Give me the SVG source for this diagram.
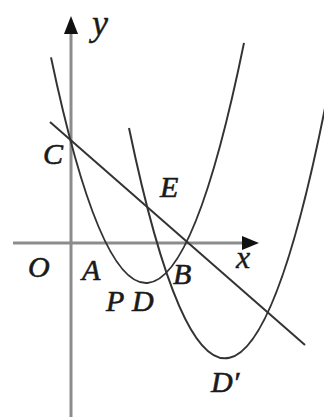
<svg xmlns="http://www.w3.org/2000/svg" width="324" height="419" viewBox="0 0 324 419">
<style>
.ax{stroke:#8c8c8c;stroke-width:3;fill:none}
.cv{stroke:#333;stroke-width:2;fill:none}
.lb{font-family:"Liberation Serif",serif;font-style:italic;font-size:30px;fill:#1a1a1a;stroke:#1a1a1a;stroke-width:0.6}
.lc{font-family:"Liberation Serif",serif;font-style:italic;font-size:36px;fill:#1a1a1a;stroke:#1a1a1a;stroke-width:0.4}
</style>
<rect width="324" height="419" fill="#fff"/>
<g id="axes">
<line class="ax" x1="71" y1="417" x2="71" y2="30"/>
<polygon points="71,16 64,34 78,34" fill="#111"/>
<line class="ax" x1="13" y1="243" x2="245" y2="243"/>
<polygon points="259,243 242,236 242,250" fill="#111"/>
</g>
<g id="connectors">
<path id="parabola1" class="cv" d="M51,57.4 Q147.5,515.8 244,42.9"/>
<path id="parabola2" class="cv" d="M129,128 Q229.5,610.4 330,82.4"/>
<line id="lineCB" class="cv" x1="50" y1="122" x2="305" y2="345"/>
</g>
<g id="labels">
<text class="lc" x="92" y="35">y</text>
<text class="lc" x="236" y="268" style="font-size:32px">x</text>
<text class="lb" x="43" y="164">C</text>
<text class="lb" x="28" y="277">O</text>
<text class="lb" x="82" y="280">A</text>
<text class="lb" x="106" y="311">P</text>
<text class="lb" x="132" y="311">D</text>
<text class="lb" x="173" y="284">B</text>
<text class="lb" x="160" y="197">E</text>
<text class="lb" x="211" y="392">D′</text>
</g>
</svg>
